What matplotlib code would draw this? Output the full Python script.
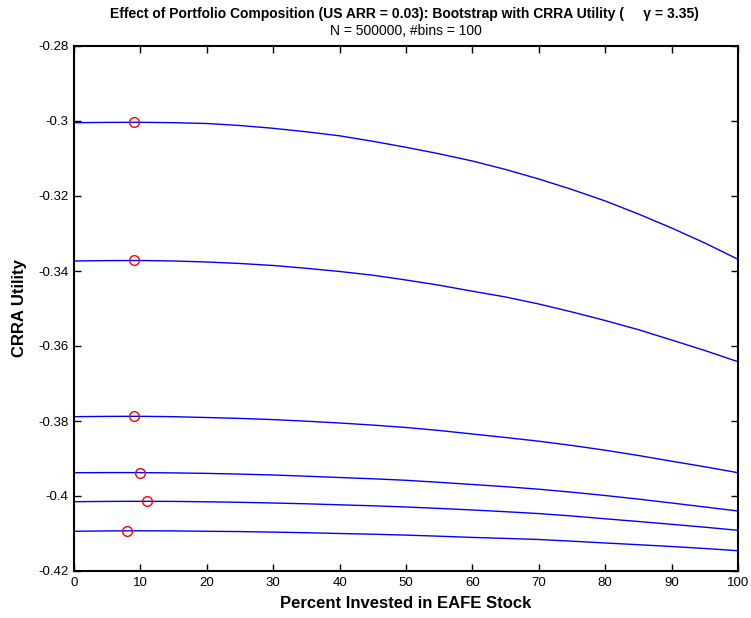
import matplotlib
matplotlib.use("Agg")
import matplotlib.pyplot as plt

plt.rcParams['font.family'] = ['Liberation Sans', 'DejaVu Sans']

# Percent invested in EAFE stock
pct = [0, 5, 10, 15, 20, 25, 30, 35, 40, 45, 50, 55, 60, 65, 70, 75, 80, 85, 90, 95, 100]

# CRRA utility curves (top to bottom)
curve1 = [-0.30045, -0.30037, -0.30035, -0.30045, -0.30067, -0.30120, -0.30195, -0.30288, -0.30395, -0.30541,
          -0.30701, -0.30875, -0.31067, -0.31293, -0.31547, -0.31827, -0.32133, -0.32480, -0.32853, -0.33253, -0.33688]
curve2 = [-0.33733, -0.33723, -0.33720, -0.33733, -0.33760, -0.33800, -0.33853, -0.33928, -0.34013, -0.34112,
          -0.34240, -0.34379, -0.34539, -0.34693, -0.34880, -0.35093, -0.35320, -0.35565, -0.35840, -0.36120, -0.36419]
curve3 = [-0.37885, -0.37877, -0.37875, -0.37885, -0.37907, -0.37931, -0.37963, -0.38005, -0.38053, -0.38109,
          -0.38173, -0.38253, -0.38347, -0.38440, -0.38539, -0.38653, -0.38779, -0.38920, -0.39072, -0.39221, -0.39379]
curve4 = [-0.39379, -0.39376, -0.39376, -0.39384, -0.39397, -0.39416, -0.39440, -0.39472, -0.39507, -0.39541,
          -0.39581, -0.39635, -0.39693, -0.39752, -0.39819, -0.39899, -0.39987, -0.40083, -0.40187, -0.40293, -0.40400]
curve5 = [-0.40152, -0.40144, -0.40141, -0.40144, -0.40155, -0.40168, -0.40187, -0.40208, -0.40235, -0.40261,
          -0.40293, -0.40331, -0.40373, -0.40419, -0.40469, -0.40533, -0.40608, -0.40680, -0.40755, -0.40832, -0.40915]
curve6 = [-0.40941, -0.40931, -0.40928, -0.40931, -0.40941, -0.40949, -0.40963, -0.40979, -0.41000, -0.41019,
          -0.41043, -0.41072, -0.41104, -0.41131, -0.41160, -0.41205, -0.41253, -0.41299, -0.41347, -0.41400, -0.41459]
curves = [curve1, curve2, curve3, curve4, curve5, curve6]

# Optimal points (red circles)
opt_x = [9, 9, 9, 10, 11, 8]
opt_y = [-0.30035, -0.33715, -0.37867, -0.39379, -0.40141, -0.40925]

x_ticks = [0, 10, 20, 30, 40, 50, 60, 70, 80, 90, 100]
y_ticks = [-0.42, -0.40, -0.38, -0.36, -0.34, -0.32, -0.30, -0.28]
y_tick_labels = ['-0.42', '-0.4', '-0.38', '-0.36', '-0.34', '-0.32', '-0.3', '-0.28']

fig = plt.figure(figsize=(7.51, 6.18), dpi=100)
ax = fig.add_axes([74/751, 1-571/618, (738-74)/751, (571-46)/618])

for c in curves:
    ax.plot(pct, c, color='#0000ff', lw=1.0)
ax.plot(opt_x, opt_y, linestyle='none', marker='o', markersize=7,
        markerfacecolor='none', markeredgecolor='#ff0000', markeredgewidth=1.0)

ax.set_xlim(0, 100)
ax.set_ylim(-0.42, -0.28)
ax.set_xticks(x_ticks)
ax.set_xticklabels([str(t) for t in x_ticks])
ax.set_yticks(y_ticks)
ax.set_yticklabels(y_tick_labels)
ax.tick_params(direction='in', top=True, right=True, length=5, width=1,
               labelsize=9.5, pad=4)
for s in ax.spines.values():
    s.set_linewidth(1.5)

ax.set_xlabel('Percent Invested in EAFE Stock', fontsize=12, fontweight='bold', labelpad=5)
ax.set_ylabel('CRRA Utility', fontsize=12, fontweight='bold', labelpad=8)

fig.text(404/751, 1-14/618,
         'Effect of Portfolio Composition (US ARR = 0.03): Bootstrap with CRRA Utility (     \u03b3 = 3.35)',
         ha='center', va='center', fontsize=10, fontweight='bold')
fig.text(406/751, 1-31/618, 'N = 500000, #bins = 100', ha='center', va='center', fontsize=10)

fig.savefig('out.png', dpi=100)
